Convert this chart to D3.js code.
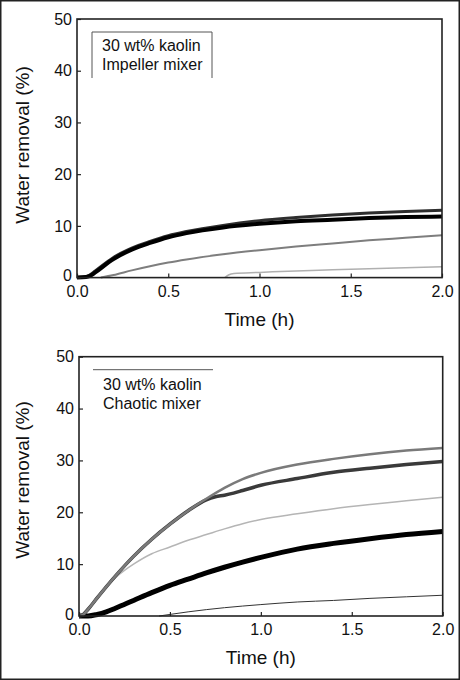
<!DOCTYPE html>
<html>
<head>
<meta charset="utf-8">
<script src="https://cdn.jsdelivr.net/npm/d3@7"></script>
<style>
  html, body { margin: 0; padding: 0; background: #fff; }
  svg { display: block; font-family: "Liberation Sans", Arial, sans-serif; }
</style>
</head>
<body>
<svg id="chart" width="460" height="680"></svg>
<script>
// ---------- data ----------
const timeTicks = [0, 0.5, 1.0, 1.5, 2.0];
const removalTicks = [0, 10, 20, 30, 40, 50];
const xTitle = "Time (h)";
const yTitle = "Water removal (%)";
const legendTop = ["30 wt% kaolin", "Impeller mixer"];
const legendBottom = ["30 wt% kaolin", "Chaotic mixer"];

// Impeller mixer series: [time (h), water removal (%)]
const impellerUpper = [[0,0],[0.04,0.1],[0.07,0.5],[0.1,1.3],[0.2,3.9],[0.3,5.7],[0.4,7.0],[0.5,8.1],[0.6,8.9],[0.8,10.1],[1.0,11.0],[1.2,11.6],[1.4,12.1],[1.6,12.5],[1.8,12.8],[2.0,13.0]];
const impellerLower = [[0,0],[0.05,0.1],[0.08,0.5],[0.1,1.0],[0.2,3.6],[0.3,5.4],[0.4,6.7],[0.5,7.8],[0.6,8.6],[0.8,9.7],[1.0,10.4],[1.2,10.9],[1.4,11.2],[1.6,11.5],[1.8,11.7],[2.0,11.8]];
const impellerGray = [[0.13,0],[0.2,0.5],[0.3,1.4],[0.4,2.2],[0.5,2.9],[0.6,3.5],[0.8,4.5],[1.0,5.3],[1.2,6.0],[1.4,6.6],[1.6,7.2],[1.8,7.7],[2.0,8.2]];
const impellerLight = [[0.81,0],[0.83,0.5],[0.86,0.8],[1.0,1.0],[1.2,1.3],[1.4,1.5],[1.6,1.7],[1.8,1.9],[2.0,2.1]];

// Chaotic mixer series
const chaoticGray = [[0,0],[0.02,0.2],[0.05,1.3],[0.1,3.5],[0.2,7.7],[0.3,11.5],[0.4,14.8],[0.5,17.7],[0.6,20.3],[0.7,22.6],[0.8,24.7],[0.9,26.4],[1.0,27.6],[1.2,29.2],[1.4,30.3],[1.6,31.2],[1.8,31.9],[2.0,32.4]];
const chaoticDark = [[0,0],[0.02,0.2],[0.05,1.3],[0.1,3.5],[0.2,7.7],[0.3,11.5],[0.4,14.8],[0.5,17.7],[0.6,20.3],[0.7,22.4],[0.75,23.0],[0.8,23.3],[0.85,23.7],[0.9,24.2],[1.0,25.2],[1.2,26.5],[1.4,27.7],[1.6,28.5],[1.8,29.2],[2.0,29.8]];
const chaoticLight = [[0,0],[0.02,0.2],[0.05,1.4],[0.1,3.6],[0.2,7.4],[0.25,8.8],[0.3,10.0],[0.4,12.0],[0.5,13.3],[0.6,14.6],[0.7,15.7],[0.8,16.8],[0.9,17.8],[1.0,18.6],[1.2,19.7],[1.4,20.7],[1.6,21.5],[1.8,22.2],[2.0,22.9]];
const chaoticBlack = [[0,0],[0.05,0],[0.1,0.3],[0.15,0.8],[0.2,1.5],[0.3,3.0],[0.4,4.5],[0.5,5.9],[0.6,7.1],[0.7,8.3],[0.8,9.4],[0.9,10.4],[1.0,11.3],[1.2,12.9],[1.4,14.0],[1.6,14.9],[1.8,15.7],[2.0,16.3]];
const chaoticThin = [[0.44,0],[0.5,0.3],[0.6,0.8],[0.8,1.6],[1.0,2.2],[1.2,2.7],[1.4,3.0],[1.6,3.4],[1.8,3.7],[2.0,4.0]];

// ---------- drawing ----------
const svg = d3.select("#chart");

svg.append("rect")
  .attr("x", 0.75).attr("y", 0.75).attr("width", 458.5).attr("height", 678.5)
  .attr("fill", "#fff").attr("stroke", "#222").attr("stroke-width", 1.5);

function drawPanel(cfg) {
  const x = d3.scaleLinear().domain([0, 2]).range([cfg.left, cfg.right]);
  const y = d3.scaleLinear().domain([0, 50]).range([cfg.bottom, cfg.top]);
  const g = svg.append("g");

  const line = d3.line().x(d => x(d[0])).y(d => y(d[1])).curve(d3.curveMonotoneX);

  const plot = g.append("g");
  cfg.series.forEach(s => {
    plot.append("path")
      .datum(s.data)
      .attr("d", line)
      .attr("fill", "none")
      .attr("stroke", s.color)
      .attr("stroke-width", s.width)
      .attr("stroke-linejoin", "round")
      .attr("stroke-linecap", "butt");
  });

  // x axis (inward ticks)
  const xa = g.append("g")
    .attr("transform", `translate(0,${cfg.bottom})`)
    .call(d3.axisBottom(x).tickValues(timeTicks).tickFormat(d3.format(".1f"))
      .tickSizeInner(-4).tickSizeOuter(0).tickPadding(8));
  xa.select(".domain").remove();
  xa.selectAll(".tick line").attr("stroke", "#222").attr("stroke-width", 1.2);
  xa.selectAll("text").attr("font-size", 16).attr("fill", "#111")
    .attr("font-family", "'Liberation Sans', Arial, sans-serif");

  // y axis (inward ticks)
  const ya = g.append("g")
    .attr("transform", `translate(${cfg.left},0)`)
    .call(d3.axisLeft(y).tickValues(removalTicks).tickFormat(d3.format("d"))
      .tickSizeInner(-4).tickSizeOuter(0).tickPadding(5));
  ya.select(".domain").remove();
  ya.selectAll(".tick line").attr("stroke", "#222").attr("stroke-width", 1.2);
  ya.selectAll("text").attr("font-size", 16).attr("fill", "#111")
    .attr("font-family", "'Liberation Sans', Arial, sans-serif");
  ya.selectAll(".tick").filter(d => d === 0).select("text").attr("dy", "0.2em");

  // frame
  g.append("rect")
    .attr("x", cfg.left).attr("y", cfg.top)
    .attr("width", cfg.right - cfg.left).attr("height", cfg.bottom - cfg.top)
    .attr("fill", "none").attr("stroke", "#222").attr("stroke-width", 1.6);

  // axis titles
  g.append("text")
    .attr("x", (cfg.left + cfg.right) / 2).attr("y", cfg.bottom + 48)
    .attr("text-anchor", "middle").attr("font-size", 19).attr("fill", "#111")
    .text(xTitle);
  g.append("text")
    .attr("transform", `translate(29,${cfg.yTitleMid}) rotate(-90)`)
    .attr("text-anchor", "middle").attr("font-size", 19).attr("fill", "#111")
    .text(yTitle);

  // legend remnant
  const lg = g.append("g");
  lg.append("line")
    .attr("x1", cfg.legendX).attr("x2", cfg.legendX + 120)
    .attr("y1", cfg.top + 13).attr("y2", cfg.top + 13)
    .attr("stroke", "#555").attr("stroke-width", 1);
  if (cfg.box) {
    [cfg.legendX, cfg.legendX + 120].forEach(xx => {
      lg.append("line")
        .attr("x1", xx).attr("x2", xx)
        .attr("y1", cfg.top + 13).attr("y2", cfg.top + 59)
        .attr("stroke", "#555").attr("stroke-width", 1);
    });
  }
  cfg.legend.forEach((t, i) => {
    lg.append("text")
      .attr("x", cfg.legendX + 10).attr("y", cfg.top + cfg.legendY + i * 19)
      .attr("font-size", 16).attr("fill", "#111")
      .text(t);
  });
}

drawPanel({
  left: 77, right: 442, top: 19, bottom: 277.6, yTitleMid: 145,
  legendX: 92, legend: legendTop, legendY: 31.5, box: true,
  series: [
    { data: impellerLight, color: "#b0b0b0", width: 1.5 },
    { data: impellerGray, color: "#7e7e7e", width: 2 },
    { data: impellerUpper, color: "#2e2e2e", width: 3 },
    { data: impellerLower, color: "#000000", width: 4 }
  ]
});

drawPanel({
  left: 79, right: 442.7, top: 356.7, bottom: 616, yTitleMid: 480,
  legendX: 93, legend: legendBottom, legendY: 33, box: false,
  series: [
    { data: chaoticThin, color: "#333333", width: 1 },
    { data: chaoticBlack, color: "#000000", width: 5 },
    { data: chaoticLight, color: "#b5b5b5", width: 1.5 },
    { data: chaoticDark, color: "#3a3a3a", width: 3.5 },
    { data: chaoticGray, color: "#7a7a7a", width: 2.5 }
  ]
});
</script>
</body>
</html>
